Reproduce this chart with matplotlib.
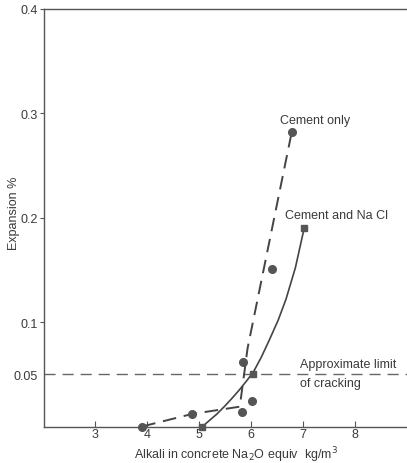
import matplotlib
matplotlib.use("Agg")
import matplotlib.pyplot as plt
import numpy as np

# Data
cement_only_x = [3.9, 4.86, 5.83, 5.85, 6.01, 6.40, 6.78]
cement_only_y = [0.0, 0.012, 0.014, 0.062, 0.024, 0.151, 0.282]
cement_only_curve_x = [3.9, 4.86, 5.78, 5.93, 6.78]
cement_only_curve_y = [0.0, 0.012, 0.019, 0.075, 0.282]

nacl_x = [5.06, 6.04, 7.02]
nacl_y = [0.0, 0.05, 0.19]
nacl_curve_x = [5.06, 5.20, 5.34, 5.48, 5.63, 5.77, 5.90, 6.04, 6.20, 6.35, 6.52, 6.67, 6.85, 7.02]
nacl_curve_y = [0.0, 0.006, 0.012, 0.019, 0.027, 0.035, 0.043, 0.052, 0.067, 0.083, 0.102, 0.122, 0.152, 0.19]

cracking_limit = 0.05
xticks = [3, 4, 5, 6, 7, 8]
yticks = [0.05, 0.1, 0.2, 0.3, 0.4]
ytick_labels = ["0.05", "0.1", "0.2", "0.3", "0.4"]

ink = "#444444"
textc = "#3a3a3a"
plt.rcParams["font.family"] = ["Liberation Sans", "DejaVu Sans"]

fig = plt.figure(figsize=(4.07, 4.64), dpi=100)
ax = fig.add_axes([43.5 / 407, 1 - 427.5 / 464, (407 - 43.5) / 407, (427.5 - 10) / 464])
ax.set_xlim(2, 9)
ax.set_ylim(0, 0.4)

ax.axhline(cracking_limit, color="#666666", lw=1.0, dashes=(8, 5), zorder=1)

ax.plot(cement_only_curve_x, cement_only_curve_y, color=ink, lw=1.4, dashes=(7, 4), zorder=2)
ax.plot(nacl_curve_x, nacl_curve_y, color=ink, lw=1.2, zorder=2, solid_joinstyle="round")
ax.plot(cement_only_x, cement_only_y, "o", color="#555555", ms=5.5, mec="#555555", zorder=3, clip_on=False)
ax.plot(nacl_x, nacl_y, "s", color="#555555", ms=5, mec="#555555", zorder=3, clip_on=False)

ax.text(7.23, 0.2936, "Cement only", fontsize=9, color=textc, ha="center", va="center")
ax.text(7.65, 0.2026, "Cement and Na Cl", fontsize=9, color=textc, ha="center", va="center")
ax.text(6.94, 0.060, "Approximate limit", fontsize=9, color=textc, ha="left", va="center")
ax.text(6.94, 0.0417, "of cracking", fontsize=9, color=textc, ha="left", va="center")

for s in ["left", "top", "bottom"]:
    ax.spines[s].set_color("#555555")
    ax.spines[s].set_linewidth(1.0)
ax.spines["right"].set_visible(False)

ax.set_xticks(xticks)
ax.set_xticklabels([str(t) for t in xticks])
ax.set_yticks(yticks)
ax.set_yticklabels(ytick_labels)
ax.tick_params(axis="x", direction="in", length=4, width=0.8, colors="#555555", labelcolor=textc, labelsize=9, pad=1)
ax.tick_params(axis="y", direction="out", length=3, width=0.8, colors="#555555", labelcolor=textc, labelsize=9, pad=1)
ax.yaxis.get_major_ticks()[0].tick1line.set_visible(False)

fig.text(236 / 407, 1 - 455 / 464, "Alkali in concrete Na$_2$O equiv  kg/m$^3$", fontsize=9,
         color=textc, ha="center", va="center")
fig.text(14 / 407, 1 - 213 / 464, "Expansion %", fontsize=9, color=textc, ha="center", va="center",
         rotation=90)

fig.savefig("out.png", dpi=100)
